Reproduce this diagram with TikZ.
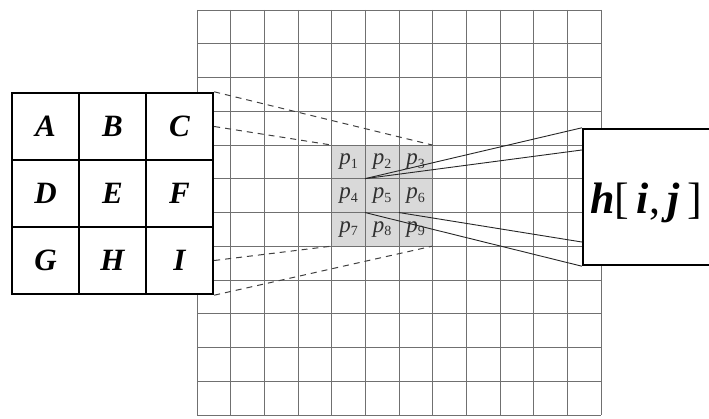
\documentclass[tikz,border=0pt]{standalone}
\usepackage{fontspec}
\setmainfont{Liberation Serif}
\definecolor{gridc}{HTML}{707070}
\definecolor{blockfill}{HTML}{D9D9D9}
\definecolor{ptext}{HTML}{303030}
\newcommand{\pl}[1]{\textit{p}\raisebox{-0.35ex}{\fontsize{14}{14}\selectfont #1}}
\begin{document}
\begin{tikzpicture}[x=1pt,y=-1pt,
  gridline/.style={draw=gridc,line width=0.9pt},
  kcell/.style={draw=black,line width=2.4pt,fill=white,minimum width=67pt,minimum height=67pt,inner sep=0pt,
     font=\fontsize{31}{34}\selectfont\bfseries\itshape},
  pcell/.style={minimum width=33.5pt,minimum height=33.5pt,inner sep=0pt,text=ptext,font=\fontsize{23}{25}\selectfont},
  dashc/.style={draw=black!75,line width=1pt,dash pattern=on 6pt off 5pt},
  solidc/.style={draw=black!85,line width=0.9pt},
  hbox/.style={draw=black,line width=2.4pt,fill=white,minimum width=134pt,minimum height=136pt,inner sep=0pt}
]
\useasboundingbox (0,0) rectangle (709,419);
% shaded block
\fill[blockfill] (331.7,145) rectangle (432.3,246.2);
% grid
\foreach \i in {0,...,12} {
  \draw[gridline] ({197+\i*33.667},10) -- ({197+\i*33.667},415);
  \draw[gridline] (197,{10+\i*33.75}) -- (601,{10+\i*33.75});
}
% p cells
\node[pcell] (p1) at (348.5,162) {\pl{1}};
\node[pcell] (p2) at (382,162) {\pl{2}};
\node[pcell] (p3) at (415.5,162) {\pl{3}};
\node[pcell] (p4) at (348.5,195.6) {\pl{4}};
\node[pcell] (p5) at (382,195.6) {\pl{5}};
\node[pcell] (p6) at (415.5,195.6) {\pl{6}};
\node[pcell] (p7) at (348.5,229.2) {\pl{7}};
\node[pcell] (p8) at (382,229.2) {\pl{8}};
\node[pcell] (p9) at (415.5,229.2) {\pl{9}};
% kernel
\node[kcell] (kA) at (45.5,126.5) {A};
\node[kcell] (kB) at (112.5,126.5) {B};
\node[kcell] (kC) at (179.5,126.5) {C};
\node[kcell] (kD) at (45.5,193.5) {D};
\node[kcell] (kE) at (112.5,193.5) {E};
\node[kcell] (kF) at (179.5,193.5) {F};
\node[kcell] (kG) at (45.5,260.5) {G};
\node[kcell] (kH) at (112.5,260.5) {H};
\node[kcell] (kI) at (179.5,260.5) {I};
% output box
\node[hbox] (h) at (650,197) {};
\node[font=\fontsize{44}{46}\selectfont] (hl) at (646,203) {\textbf{\textit{h}}[\,\textbf{\textit{i}},\,\textbf{\textit{j}}\,]};
\coordinate (hA) at (h.north west |- 0,150);
\coordinate (hB) at (h.north west |- 0,242);
% dashed projection lines
\draw[dashc] (kC.north east) -- (p3.north east);
\draw[dashc] (kC.east) -- (p1.north west);
\draw[dashc] (kI.east) -- (p7.south west);
\draw[dashc] (kI.south east) -- (p9.south east);
% solid lines to output
\draw[solidc] (p5.north west) -- (h.north west);
\draw[solidc] (p5.north west) -- (hA);
\draw[solidc] (p5.south east) -- (hB);
\draw[solidc] (p5.south west) -- (h.south west);
\end{tikzpicture}
\end{document}
